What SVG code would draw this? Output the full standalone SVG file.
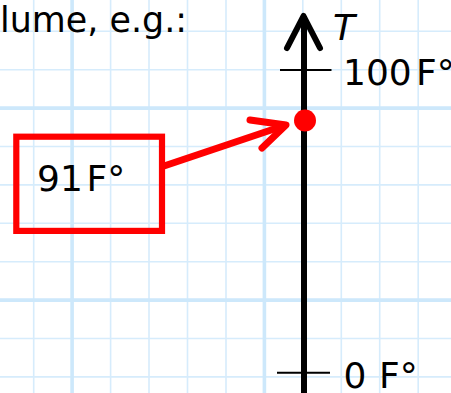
<svg xmlns="http://www.w3.org/2000/svg" width="451" height="393" viewBox="0 0 451 393">
<style>
.g{stroke:#d6ecfc;stroke-width:1.6;fill:none}
.gt{stroke:#cde8fb;stroke-width:3.6;fill:none}
.t{font-family:"DejaVu Sans","Liberation Sans",sans-serif;font-size:36px;fill:#000}
.ax{stroke:#000;stroke-width:6;fill:none;stroke-linecap:round;stroke-linejoin:round}
.tick{stroke:#000;stroke-width:2;fill:none}
.red{stroke:#ff0000;fill:none;stroke-linecap:round;stroke-linejoin:round}
</style>
<rect width="451" height="393" fill="#ffffff"/>
<g id="grid">
<path class="g" d="M33.7 0V393M110.6 0V393M149 0V393M187.5 0V393M226 0V393M302.8 0V393M341.3 0V393M379.7 0V393M418.2 0V393"/>
<path class="g" d="M0 31.3H451M0 69.7H451M0 146.5H451M0 184.9H451M0 223.3H451M0 261.7H451M0 338.5H451M0 376.9H451"/>
<path class="gt" d="M72.1 0V393M264.4 0V393M0 108.1H451M0 300.1H451"/>
</g>
<text class="t" x="0" y="32" textLength="187" lengthAdjust="spacingAndGlyphs">lume, e.g.:</text>
<g id="axis">
<path class="ax" d="M304 393V16" style="stroke-linecap:butt"/>
<path class="ax" d="M287 48L303.5 16L320 48"/>
<path class="tick" d="M280 70H331.5M277 372.7H330"/>
<text class="t" x="333" y="40" font-style="italic">T</text>
<text class="t" y="85"><tspan x="343">100</tspan><tspan x="416">F°</tspan></text>
<text class="t" y="388"><tspan x="343.5">0</tspan><tspan x="379">F°</tspan></text>
</g>
<g id="point">
<circle cx="305" cy="120.5" r="11" fill="#ff0000"/>
</g>
<g id="label">
<rect x="16.3" y="136.7" width="145.7" height="94.2" fill="none" stroke="#ff0000" stroke-width="6.2"/>
<text class="t" y="191"><tspan x="37">91</tspan><tspan x="86.5">F°</tspan></text>
</g>
<g id="connectors">
<path class="red" stroke-width="7" d="M164 166L286 125" style="stroke-linecap:butt"/>
<path class="red" stroke-width="7" d="M250 120L286 125L262 148"/>
</g>
</svg>
